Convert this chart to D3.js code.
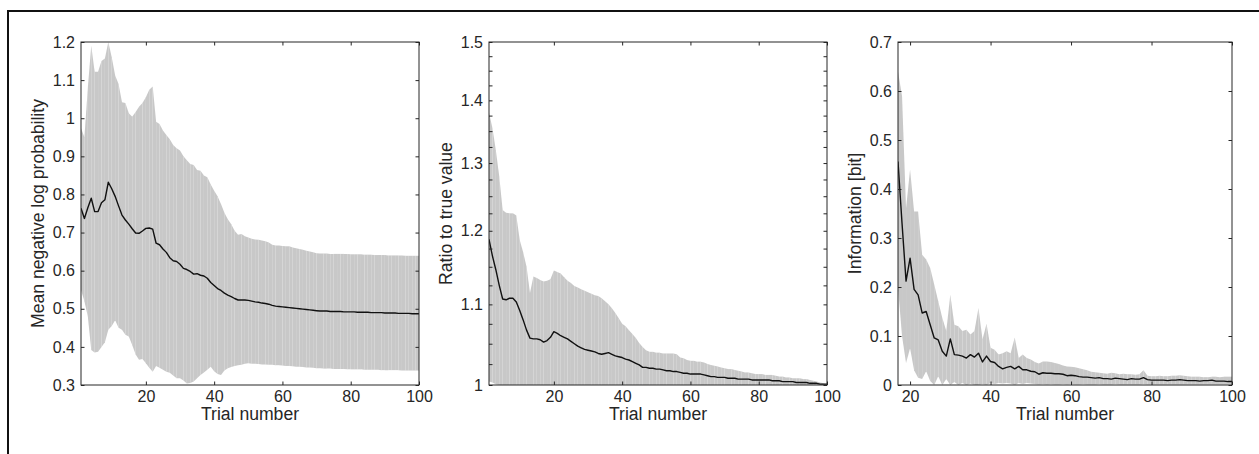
<!DOCTYPE html>
<html>
<head>
<meta charset="utf-8">
<script src="https://cdn.jsdelivr.net/npm/d3@7"></script>
<style>
  body { margin: 0; background: #fff; }
  svg text { font-family: "Liberation Sans", Arial, Helvetica, sans-serif; }
</style>
</head>
<body>
<svg id="chart" width="1259" height="454"></svg>
<script>
// ---- Panel 1: mean negative log probability (trials 1..100)
const nllTrials = [
  1,2,3,4,5,6,7,8,9,10,11,12,13,14,15,16,17,18,19,20,21,22,23,24,25,26,27,28,29,30,
  31,32,33,34,35,36,37,38,39,40,41,42,43,44,45,46,47,48,49,50,51,52,53,54,55,56,57,58,59,60,
  61,62,63,64,65,66,67,68,69,70,71,72,73,74,75,76,77,78,79,80,81,82,83,84,85,86,87,88,89,90,
  91,92,93,94,95,96,97,98,99,100];
const nllMean = [
  0.764,0.737,0.765,0.790,0.755,0.755,0.778,0.786,0.832,0.815,
  0.795,0.770,0.746,0.733,0.722,0.710,0.699,0.698,0.704,0.711,
  0.712,0.709,0.672,0.668,0.657,0.648,0.634,0.626,0.624,0.617,
  0.606,0.603,0.598,0.591,0.592,0.588,0.586,0.580,0.569,0.561,
  0.553,0.548,0.541,0.536,0.532,0.527,0.523,0.523,0.523,0.522,
  0.520,0.518,0.517,0.515,0.514,0.512,0.509,0.507,0.506,0.505,
  0.504,0.503,0.502,0.501,0.500,0.499,0.498,0.497,0.496,0.495,
  0.494,0.494,0.494,0.493,0.493,0.493,0.493,0.492,0.492,0.492,
  0.492,0.491,0.491,0.491,0.491,0.490,0.490,0.490,0.490,0.489,
  0.489,0.489,0.489,0.488,0.488,0.488,0.488,0.487,0.487,0.487];
const nllUpper = [
  0.974,0.950,1.080,1.190,1.122,1.122,1.150,1.157,1.200,1.160,
  1.112,1.090,1.042,1.040,1.013,1.004,1.016,1.030,1.040,1.055,
  1.075,1.083,0.991,0.985,0.968,0.956,0.945,0.930,0.921,0.915,
  0.900,0.890,0.880,0.877,0.864,0.862,0.850,0.845,0.826,0.810,
  0.795,0.775,0.752,0.735,0.722,0.705,0.694,0.696,0.690,0.687,
  0.684,0.682,0.681,0.679,0.677,0.674,0.668,0.666,0.666,0.665,
  0.664,0.664,0.661,0.659,0.657,0.655,0.652,0.650,0.648,0.646,
  0.645,0.645,0.645,0.644,0.644,0.644,0.644,0.644,0.644,0.643,
  0.643,0.643,0.643,0.642,0.642,0.642,0.641,0.641,0.641,0.641,
  0.640,0.640,0.640,0.640,0.640,0.639,0.639,0.639,0.639,0.639];
const nllLower = [
  0.549,0.520,0.480,0.392,0.385,0.387,0.400,0.412,0.445,0.455,
  0.470,0.450,0.445,0.432,0.427,0.405,0.380,0.366,0.368,0.357,
  0.345,0.335,0.350,0.345,0.340,0.335,0.332,0.325,0.318,0.318,
  0.312,0.304,0.305,0.309,0.318,0.326,0.333,0.340,0.348,0.336,
  0.329,0.326,0.338,0.344,0.347,0.350,0.352,0.353,0.356,0.357,
  0.356,0.356,0.355,0.354,0.354,0.353,0.353,0.352,0.352,0.351,
  0.350,0.350,0.349,0.348,0.348,0.347,0.346,0.346,0.345,0.344,
  0.344,0.343,0.343,0.343,0.342,0.342,0.342,0.342,0.341,0.341,
  0.341,0.341,0.341,0.340,0.340,0.340,0.340,0.340,0.339,0.339,
  0.339,0.339,0.339,0.339,0.338,0.338,0.338,0.338,0.338,0.338];
const nllTicks = [0.3,0.4,0.5,0.6,0.7,0.8,0.9,1,1.1,1.2];

// ---- Panel 2: ratio to true value (log axis)
const ratioTrials = nllTrials;
const ratioMean = [
  1.188,1.165,1.146,1.125,1.107,1.106,1.108,1.108,1.103,1.092,
  1.080,1.067,1.057,1.056,1.056,1.055,1.052,1.054,1.058,1.065,
  1.063,1.060,1.058,1.056,1.053,1.050,1.047,1.045,1.043,1.042,
  1.041,1.040,1.038,1.037,1.038,1.039,1.037,1.035,1.034,1.033,
  1.031,1.030,1.028,1.026,1.024,1.021,1.021,1.020,1.020,1.019,
  1.019,1.018,1.017,1.017,1.016,1.016,1.015,1.014,1.014,1.013,
  1.013,1.013,1.013,1.012,1.011,1.010,1.010,1.009,1.009,1.009,
  1.008,1.008,1.008,1.007,1.007,1.007,1.007,1.006,1.006,1.006,
  1.006,1.006,1.006,1.005,1.005,1.005,1.004,1.004,1.004,1.004,
  1.003,1.003,1.003,1.003,1.002,1.002,1.002,1.001,1.001,1.001];
const ratioUpper = [
  1.380,1.355,1.320,1.280,1.230,1.226,1.225,1.225,1.222,1.187,
  1.170,1.150,1.115,1.137,1.135,1.132,1.130,1.131,1.133,1.145,
  1.143,1.141,1.136,1.131,1.128,1.124,1.122,1.120,1.118,1.116,
  1.114,1.112,1.111,1.108,1.104,1.100,1.095,1.089,1.082,1.075,
  1.072,1.067,1.062,1.057,1.051,1.046,1.042,1.040,1.040,1.039,
  1.039,1.038,1.038,1.038,1.038,1.037,1.033,1.032,1.030,1.029,
  1.029,1.028,1.028,1.027,1.025,1.024,1.023,1.022,1.021,1.020,
  1.019,1.019,1.018,1.017,1.016,1.015,1.015,1.014,1.013,1.013,
  1.013,1.012,1.012,1.012,1.011,1.010,1.010,1.009,1.009,1.008,
  1.008,1.008,1.007,1.007,1.006,1.005,1.004,1.003,1.002,1.000];
const ratioLower = [
  1.004,1.003,1.001,1.000,1.000,1.000,1.000,1.000,1.000,1.000,
  1.000,1.000,1.000,1.000,1.000,1.000,1.000,1.000,1.000,1.000,
  1.000,1.000,1.000,1.000,1.000,1.000,1.000,1.000,1.000,1.000,
  1.000,1.000,1.000,1.000,1.000,1.000,1.000,1.000,1.000,1.000,
  1.000,1.000,1.000,1.000,1.000,1.000,1.000,1.000,1.000,1.000,
  1.000,1.000,1.000,1.000,1.000,1.000,1.000,1.000,1.000,1.000,
  1.000,1.000,1.000,1.000,1.000,1.000,1.000,1.000,1.000,1.000,
  1.000,1.000,1.000,1.000,1.000,1.000,1.000,1.000,1.000,1.000,
  1.000,1.000,1.000,1.000,1.000,1.000,1.000,1.000,1.000,1.000,
  1.000,1.000,1.000,1.000,1.000,1.000,1.000,1.000,1.000,1.000];
const ratioTicks = [1,1.1,1.2,1.3,1.4,1.5];
const ratioMinorTicks = [
  1.025,1.05,1.075,1.125,1.15,1.175,1.225,1.25,1.275,
  1.325,1.35,1.375,1.425,1.45,1.475];

// ---- Panel 3: information in bits (trials 17..100)
const infoTrials = [
  17,18,19,20,21,22,23,24,25,26,27,28,29,30,31,32,33,34,35,36,37,38,39,40,
  41,42,43,44,45,46,47,48,49,50,51,52,53,54,55,56,57,58,59,60,61,62,63,64,65,66,67,68,69,70,
  71,72,73,74,75,76,77,78,79,80,81,82,83,84,85,86,87,88,89,90,91,92,93,94,95,96,97,98,99,100];
const infoMean = [
  0.456,0.330,0.212,0.259,0.195,0.184,0.147,0.150,0.123,0.096,
  0.092,0.069,0.059,0.094,0.062,0.061,0.059,0.055,0.062,0.057,
  0.065,0.047,0.059,0.048,0.046,0.038,0.033,0.036,0.038,0.033,
  0.038,0.031,0.031,0.028,0.027,0.022,0.025,0.024,0.024,0.023,
  0.023,0.022,0.019,0.020,0.019,0.017,0.016,0.016,0.015,0.014,
  0.015,0.013,0.013,0.012,0.014,0.013,0.012,0.011,0.013,0.012,
  0.012,0.015,0.011,0.010,0.010,0.010,0.010,0.009,0.010,0.010,
  0.011,0.010,0.009,0.009,0.009,0.008,0.009,0.009,0.010,0.008,
  0.008,0.008,0.007,0.007];
const infoUpper = [
  0.640,0.590,0.360,0.440,0.354,0.354,0.266,0.256,0.239,0.205,
  0.171,0.137,0.110,0.184,0.123,0.120,0.110,0.113,0.103,0.110,
  0.157,0.093,0.125,0.076,0.072,0.062,0.065,0.069,0.065,0.097,
  0.055,0.062,0.055,0.052,0.047,0.044,0.048,0.048,0.047,0.045,
  0.043,0.040,0.038,0.037,0.036,0.034,0.032,0.030,0.027,0.026,
  0.025,0.024,0.023,0.025,0.024,0.022,0.023,0.022,0.022,0.021,
  0.022,0.030,0.019,0.018,0.018,0.019,0.018,0.018,0.019,0.019,
  0.020,0.019,0.018,0.017,0.017,0.017,0.016,0.016,0.017,0.017,
  0.016,0.017,0.017,0.017];
const infoLower = [
  0.200,0.100,0.045,0.075,0.030,0.015,0.012,0.028,0.008,-0.005,
  0.018,-0.004,0.012,-0.006,0.006,-0.003,0.004,-0.002,0.003,-0.004,
  -0.008,0.002,-0.005,0.004,0.002,0.004,0.003,0.004,0.003,-0.002,
  0.004,0.002,0.004,0.003,0.002,0.001,0.002,0.001,0.002,0.001,
  0.001,0.002,0.001,0.002,0.001,0.001,0.002,0.001,0.001,0.001,
  0.002,0.001,0.001,0.001,0.002,0.001,0.001,0.001,0.001,0.001,
  0.001,0.002,0.001,0.001,0.001,0.001,0.001,0.001,0.001,0.001,
  0.001,0.001,0.001,0.001,0.001,0.001,0.001,0.001,0.001,0.001,
  0.001,0.001,0.001,0.001];
const infoTicks = [0,0.1,0.2,0.3,0.4,0.5,0.6,0.7];

const trialTicks = [20,40,60,80,100];

// Colors / style
const bandColor = "#c8c8c8";
const axisColor = "#262626";
const tickLen = 3.5;
const fmt = v => String(+v.toFixed(2));

const panels = [
  { left: 81, right: 419, xDomain: [1, 100], trials: nllTrials,
    mean: nllMean, upper: nllUpper, lower: nllLower,
    y: d3.scaleLinear().domain([0.3, 1.2]), yTicks: nllTicks, yMinor: [],
    label: "Mean negative log probability" },
  { left: 489, right: 827, xDomain: [1, 100], trials: ratioTrials,
    mean: ratioMean, upper: ratioUpper, lower: ratioLower,
    y: d3.scaleLog().domain([1, 1.5]), yTicks: ratioTicks, yMinor: ratioMinorTicks,
    label: "Ratio to true value" },
  { left: 898, right: 1232, xDomain: [17, 100], trials: infoTrials,
    mean: infoMean, upper: infoUpper, lower: infoLower,
    y: d3.scaleLinear().domain([0, 0.7]), yTicks: infoTicks, yMinor: [],
    label: "Information [bit]" }
];
const plotTop = 42, plotBottom = 385;

const svg = d3.select("#chart");

// outer frame (only top and left edges fall inside the picture)
svg.append("rect")
  .attr("x", 8).attr("y", 11)
  .attr("width", 1400).attr("height", 600)
  .attr("fill", "none")
  .attr("stroke", "#111")
  .attr("stroke-width", 2);

function styleAxis(g, size) {
  g.attr("font-size", size)
    .attr("font-family", "'Liberation Sans', Arial, Helvetica, sans-serif")
    .attr("color", axisColor);
  g.select(".domain").remove();
}

panels.forEach((p, i) => {
  const x = d3.scaleLinear().domain(p.xDomain).range([p.left, p.right]);
  const y = p.y.range([plotBottom, plotTop]);

  svg.append("clipPath").attr("id", "clip" + i)
    .append("rect")
    .attr("x", p.left).attr("y", plotTop)
    .attr("width", p.right - p.left).attr("height", plotBottom - plotTop);

  const plot = svg.append("g").attr("clip-path", `url(#clip${i})`);

  const pts = p.trials.map((t, k) => ({ t, m: p.mean[k], up: p.upper[k], lo: p.lower[k] }));

  // shaded band, one patch per trial step (gives the faint vertical seams)
  const yMin = p.y.domain()[0];
  const area = d3.area()
    .x(d => x(d.t))
    .y0(d => y(Math.max(d.lo, yMin)))
    .y1(d => y(d.up));
  for (let k = 0; k < pts.length - 1; k++) {
    plot.append("path")
      .datum([pts[k], pts[k + 1]])
      .attr("d", area)
      .attr("fill", bandColor);
  }

  // mean line
  plot.append("path")
    .datum(pts)
    .attr("d", d3.line().x(d => x(d.t)).y(d => y(d.m)))
    .attr("fill", "none")
    .attr("stroke", "#111")
    .attr("stroke-width", 1.4)
    .attr("stroke-linejoin", "round");

  // axes
  svg.append("g")
    .attr("transform", `translate(0,${plotBottom})`)
    .call(d3.axisBottom(x).tickValues(trialTicks).tickSize(-tickLen).tickPadding(6).tickFormat(d3.format("d")))
    .call(g => styleAxis(g, 16));
  svg.append("g")
    .attr("transform", `translate(0,${plotTop})`)
    .call(d3.axisTop(x).tickValues(trialTicks).tickSize(-tickLen).tickFormat(""))
    .call(g => styleAxis(g, 16));
  svg.append("g")
    .attr("transform", `translate(${p.left},0)`)
    .call(d3.axisLeft(y).tickValues(p.yTicks).tickSize(-tickLen).tickPadding(6).tickFormat(fmt))
    .call(g => styleAxis(g, 16));
  svg.append("g")
    .attr("transform", `translate(${p.right},0)`)
    .call(d3.axisRight(y).tickValues(p.yTicks).tickSize(-tickLen).tickFormat(""))
    .call(g => styleAxis(g, 16));

  if (p.yMinor.length) {
    svg.append("g")
      .attr("transform", `translate(${p.left},0)`)
      .call(d3.axisLeft(y).tickValues(p.yMinor).tickSize(-tickLen).tickFormat(""))
      .call(g => styleAxis(g, 16));
    svg.append("g")
      .attr("transform", `translate(${p.right},0)`)
      .call(d3.axisRight(y).tickValues(p.yMinor).tickSize(-tickLen).tickFormat(""))
      .call(g => styleAxis(g, 16));
  }

  // box
  svg.append("rect")
    .attr("x", p.left).attr("y", plotTop)
    .attr("width", p.right - p.left).attr("height", plotBottom - plotTop)
    .attr("fill", "none")
    .attr("stroke", axisColor)
    .attr("stroke-width", 1);

  // labels
  svg.append("text")
    .attr("x", (p.left + p.right) / 2)
    .attr("y", 420)
    .attr("text-anchor", "middle")
    .attr("font-size", 17.6)
    .attr("fill", axisColor)
    .text("Trial number");

  svg.append("text")
    .attr("transform", `translate(${p.left - 37},${(plotTop + plotBottom) / 2}) rotate(-90)`)
    .attr("text-anchor", "middle")
    .attr("font-size", 17.6)
    .attr("fill", axisColor)
    .text(p.label);
});
</script>
</body>
</html>
